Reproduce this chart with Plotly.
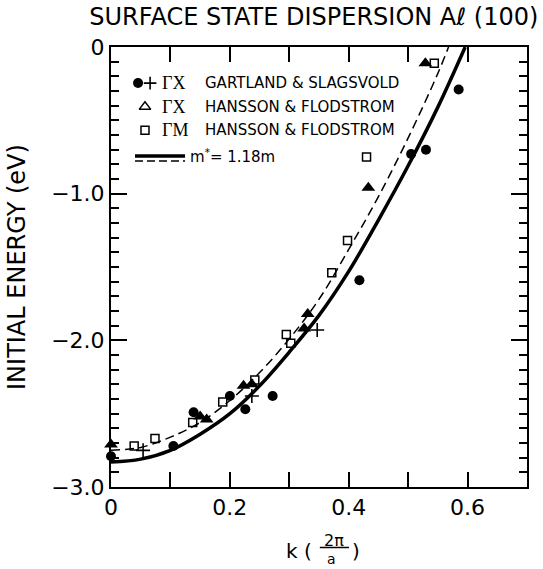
import plotly.graph_objects as go

# ---- data ----
gs_circle_k = [0.0, 0.105, 0.139, 0.200, 0.226, 0.272, 0.418, 0.505, 0.530, 0.585]
gs_circle_E = [-2.79, -2.72, -2.49, -2.38, -2.47, -2.38, -1.59, -0.73, -0.70, -0.29]

gs_plus_k = [0.054, 0.237, 0.347]
gs_plus_E = [-2.75, -2.38, -1.93]

hf_tri_k = [0.0, 0.150, 0.161, 0.223, 0.237, 0.325, 0.331, 0.433, 0.529]
hf_tri_E = [-2.71, -2.52, -2.54, -2.31, -2.30, -1.92, -1.82, -0.96, -0.11]

hf_sq_k = [0.039, 0.074, 0.1375, 0.188, 0.242, 0.295, 0.3025, 0.3715, 0.398, 0.430, 0.544]
hf_sq_E = [-2.72, -2.67, -2.56, -2.42, -2.27, -1.96, -2.02, -1.54, -1.32, -0.75, -0.11]

solid_k = [0.0, 0.05, 0.10, 0.15, 0.20, 0.25, 0.30, 0.35, 0.40, 0.45, 0.50, 0.55, 0.596]
solid_E = [-2.83, -2.81, -2.75, -2.64, -2.50, -2.31, -2.08, -1.83, -1.53, -1.18, -0.81, -0.41, 0.0]

dash_k = [0.0, 0.05, 0.10, 0.15, 0.20, 0.25, 0.30, 0.35, 0.40, 0.45, 0.50, 0.55, 0.568]
dash_E = [-2.75, -2.73, -2.66, -2.56, -2.41, -2.22, -1.99, -1.72, -1.38, -1.02, -0.62, -0.18, 0.0]

x_tickvals = [0.0, 0.1, 0.2, 0.3, 0.4, 0.5, 0.6, 0.7]
x_ticktext = ["0", " ", "0.2", " ", "0.4", " ", "0.6", " "]
y_tickvals = [-3.0, -2.0, -1.0, 0.0]
y_ticktext = ["\u22123.0", "\u22122.0", "\u22121.0", "0"]

legend_rows = [
    ("\u0393X", "GARTLAND & SLAGSVOLD"),
    ("\u0393X", "HANSSON & FLODSTROM"),
    ("\u0393M", "HANSSON & FLODSTROM"),
]
curve_label = "m<sup>*</sup>= 1.18m"

FONT = "DejaVu Sans, Liberation Sans, sans-serif"
SERIF = "Liberation Serif, DejaVu Serif, serif"
BLACK = "black"

fig = go.Figure()

fig.add_trace(go.Scatter(x=solid_k, y=solid_E, mode="lines", line=dict(color=BLACK, width=3.5, shape="spline"),
                         showlegend=False, cliponaxis=True))
fig.add_trace(go.Scatter(x=dash_k, y=dash_E, mode="lines", yaxis="y3",
                         line=dict(color=BLACK, width=1.5, dash="9px,5px", shape="spline"),
                         showlegend=False, cliponaxis=True))
fig.add_trace(go.Scatter(x=gs_circle_k, y=gs_circle_E, mode="markers",
                         marker=dict(symbol="circle", size=10, color=BLACK), showlegend=False, cliponaxis=False))
fig.add_trace(go.Scatter(x=gs_plus_k, y=gs_plus_E, mode="markers",
                         marker=dict(symbol="cross-thin", size=10, line=dict(color=BLACK, width=1.6)),
                         showlegend=False, cliponaxis=False))
fig.add_trace(go.Scatter(x=hf_tri_k, y=hf_tri_E, mode="markers",
                         marker=dict(symbol="triangle-up", size=12, color=BLACK), showlegend=False, cliponaxis=False))
fig.add_trace(go.Scatter(x=hf_sq_k, y=hf_sq_E, mode="markers",
                         marker=dict(symbol="square-open", size=8, color=BLACK, line=dict(width=1.5)),
                         showlegend=False, cliponaxis=False))

# legend keys (drawn on an invisible overlay axis in plot-area fractions)
lx, ly = [0.065, 0.0817, 0.0817], [0.918, 0.864, 0.811]
fig.add_trace(go.Scatter(x=[lx[0]], y=[ly[0]], mode="markers", xaxis="x2", yaxis="y2",
                         marker=dict(symbol="circle", size=10, color=BLACK), showlegend=False, cliponaxis=False))
fig.add_trace(go.Scatter(x=[0.094], y=[ly[0]], mode="markers", xaxis="x2", yaxis="y2",
                         marker=dict(symbol="cross-thin", size=9, line=dict(color=BLACK, width=1.6)),
                         showlegend=False, cliponaxis=False))
fig.add_trace(go.Scatter(x=[lx[1]], y=[ly[1]], mode="markers", xaxis="x2", yaxis="y2",
                         marker=dict(symbol="triangle-up-open", size=10, color=BLACK, line=dict(width=1.5)),
                         showlegend=False, cliponaxis=False))
fig.add_trace(go.Scatter(x=[lx[2]], y=[ly[2]], mode="markers", xaxis="x2", yaxis="y2",
                         marker=dict(symbol="square-open", size=8, color=BLACK, line=dict(width=1.5)),
                         showlegend=False, cliponaxis=False))

annotations = []
for (sym, name), yy in zip(legend_rows, ly):
    annotations.append(dict(x=0.118, y=yy, xref="paper", yref="paper", text=sym, showarrow=False,
                            xanchor="left", yanchor="middle", font=dict(family=SERIF, size=18, color=BLACK)))
    annotations.append(dict(x=0.221, y=yy, xref="paper", yref="paper", text=name, showarrow=False,
                            xanchor="left", yanchor="middle", font=dict(family=FONT, size=15, color=BLACK)))
annotations.append(dict(x=0.185, y=0.752, xref="paper", yref="paper", text=curve_label, showarrow=False,
                        xanchor="left", yanchor="middle", font=dict(family=FONT, size=15, color=BLACK)))

# y-axis title
annotations.append(dict(x=-0.226, y=0.5, xref="paper", yref="paper", text="INITIAL ENERGY (eV)", showarrow=False,
                        textangle=-90, xanchor="center", yanchor="middle", font=dict(family=FONT, size=24, color=BLACK)))
# x-axis title: k (2π/a)
annotations.append(dict(x=0.488, y=-0.145, xref="paper", yref="paper", text="k (", showarrow=False,
                        xanchor="right", yanchor="middle", font=dict(family=FONT, size=20, color=BLACK)))
annotations.append(dict(x=0.5745, y=-0.145, xref="paper", yref="paper", text=")", showarrow=False,
                        xanchor="left", yanchor="middle", font=dict(family=FONT, size=20, color=BLACK)))
annotations.append(dict(x=0.537, y=-0.1205, xref="paper", yref="paper", text="2\u03c0", showarrow=False,
                        xanchor="center", yanchor="middle", font=dict(family=FONT, size=16, color=BLACK)))
annotations.append(dict(x=0.530, y=-0.1636, xref="paper", yref="paper", text="a", showarrow=False,
                        xanchor="center", yanchor="middle", font=dict(family=FONT, size=14, color=BLACK)))

shapes = [
    dict(type="line", xref="paper", yref="paper", x0=0.0577, x1=0.178, y0=0.752, y1=0.752,
         line=dict(color=BLACK, width=3.5)),
    dict(type="line", xref="paper", yref="paper", x0=0.0577, x1=0.178, y0=0.741, y1=0.741,
         line=dict(color=BLACK, width=1.5, dash="8px,4px")),
    dict(type="line", xref="paper", yref="paper", x0=0.502, x1=0.572, y0=-0.1375, y1=-0.1375,
         line=dict(color=BLACK, width=1.5)),
]

yaxis_common = dict(range=[-3, 0], ticks="inside", ticklen=16, tickwidth=2, tickcolor=BLACK,
                    showgrid=False, zeroline=False,
                    minor=dict(dtick=0.1, ticks="inside", ticklen=8, tickwidth=1.5, tickcolor=BLACK, showgrid=False))

fig.update_layout(
    width=543, height=569,
    margin=dict(l=111, r=16, t=47, b=82),
    paper_bgcolor="white", plot_bgcolor="white",
    font=dict(family=FONT, color=BLACK),
    title=dict(text="SURFACE STATE DISPERSION A\u2113 (100)", x=0.578, xanchor="center",
               y=0.970, yanchor="middle", xref="container", yref="container",
               font=dict(family=FONT, size=24, color=BLACK)),
    xaxis=dict(range=[0, 0.7], tickvals=x_tickvals, ticktext=x_ticktext, ticks="inside", ticklen=15,
               tickwidth=2, tickcolor=BLACK, showline=True, linewidth=2, linecolor=BLACK, mirror="ticks",
               showgrid=False, zeroline=False, tickfont=dict(size=22, color=BLACK)),
    yaxis=dict(**yaxis_common, tickvals=y_tickvals, ticktext=y_ticktext, showline=True, linewidth=2,
               linecolor=BLACK, mirror="ticks", tickfont=dict(size=22, color=BLACK)),
    yaxis3=dict(**yaxis_common, tickvals=y_tickvals, overlaying="y", side="right", showticklabels=False,
                showline=False),
    xaxis2=dict(range=[0, 1], overlaying="x", visible=False),
    yaxis2=dict(range=[0, 1], overlaying="y", visible=False),
    annotations=annotations,
    shapes=shapes,
)

fig.write_html("out.html")
